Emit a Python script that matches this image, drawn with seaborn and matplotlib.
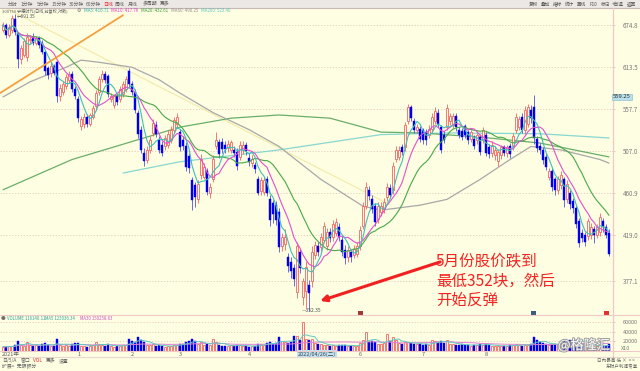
import numpy as np
import pandas as pd
import matplotlib
matplotlib.use("Agg")
import matplotlib.pyplot as plt
import matplotlib.transforms as mtrans
import matplotlib.patheffects as pe
from matplotlib.patches import Rectangle
from matplotlib.lines import Line2D
from matplotlib.ticker import FixedLocator, NullLocator, FuncFormatter
import seaborn as sns

# ---------------- data ----------------
opens = [667, 675, 660, 667, 684, 662, 625, 630, 627, 652,
         657, 648, 655, 648, 635, 612, 605, 615, 620, 574,
         579, 588, 595, 604, 584, 570, 536, 539, 548, 539,
         548, 561, 580, 597, 604, 601, 570, 563, 574, 570,
         577, 584, 608, 590, 580, 552, 532, 505, 497, 508,
         528, 538, 520, 514, 512, 514, 520, 532, 539, 529,
         520, 513, 501, 474, 469, 454, 480, 478, 484, 461,
         476, 513, 517, 517, 514, 510, 508, 508, 506, 500,
         508, 514, 499, 493, 491, 475, 463, 462, 475, 454,
         450, 448, 441, 408, 410, 398, 394, 388, 368, 403,
         364, 369, 374, 377, 400, 408, 407, 414, 408, 422,
         417, 421, 426, 414, 405, 398, 403, 400, 401, 408,
         427, 447, 464, 454, 447, 434, 441, 444, 456, 466,
         464, 498, 500, 511, 511, 543, 560, 543, 532, 533,
         531, 529, 526, 533, 543, 553, 535, 526, 535, 543,
         538, 549, 532, 530, 536, 529, 521, 521, 519, 523,
         519, 525, 511, 505, 502, 495, 502, 511, 505, 513,
         512, 532, 535, 548, 531, 539, 556, 560, 521, 512,
         508, 500, 478, 484, 475, 464, 469, 475, 454, 461,
         452, 445, 432, 421, 419, 418, 419, 424, 419, 422,
         432, 426, 421]
highs = [680, 678, 676, 690, 691.35, 664, 645, 655, 662, 660,
         662, 658, 658, 652, 638, 615, 620, 618, 622, 590,
         594, 604, 608, 608, 588, 574, 549, 552, 551, 553,
         563, 582, 601, 609, 608, 604, 578, 577, 578, 588,
         594, 601, 612, 594, 584, 556, 536, 510, 512, 524,
         545, 542, 524, 518, 526, 531, 536, 548, 552, 533,
         524, 517, 505, 478, 472, 474, 503, 493, 488, 471,
         502, 529, 521, 522, 518, 519, 520, 512, 510, 518,
         518, 517, 504, 502, 494, 479, 478, 478, 479, 458,
         453, 452, 445, 421, 424, 402, 398, 392, 412, 406,
         380, 395, 378, 408, 413, 412, 421, 431, 425, 425,
         433, 435, 430, 418, 409, 408, 406, 409, 412, 427,
         451, 472, 468, 458, 450, 451, 451, 455, 471, 470,
         494, 512, 512, 515, 541, 564, 563, 546, 539, 536,
         534, 533, 537, 553, 560, 557, 538, 530, 564, 553,
         553, 553, 535, 534, 539, 532, 532, 525, 528, 527,
         535, 529, 515, 518, 512, 509, 514, 514, 514, 516,
         528, 553, 549, 552, 561, 564, 562, 575, 524, 516,
         511, 504, 488, 487, 478, 479, 484, 478, 474, 464,
         455, 448, 435, 424, 422, 435, 430, 427, 429, 440,
         435, 429, 424]
lows = [664, 655, 657, 663, 660, 612, 618, 627, 622, 648,
        645, 645, 640, 632, 602, 597, 600, 602, 566, 568,
        575, 584, 591, 580, 570, 541, 531, 534, 535, 536,
        545, 558, 576, 593, 591, 573, 566, 559, 562, 566,
        573, 580, 586, 576, 552, 522, 504, 490, 493, 505,
        524, 523, 504, 501, 508, 510, 516, 528, 535, 507,
        508, 484, 482, 443, 446, 450, 476, 475, 458, 455,
        472, 509, 499, 505, 505, 506, 504, 500, 485, 496,
        503, 502, 490, 489, 482, 458, 458, 458, 457, 427,
        430, 428, 403, 404, 405, 385, 380, 373, 363, 384,
        357, 355, 352.35, 372, 396, 399, 404, 411, 405, 412,
        413, 418, 413, 399, 392, 394, 394, 397, 398, 405,
        424, 444, 453, 440, 427, 430, 437, 440, 452, 455,
        460, 494, 497, 502, 507, 539, 542, 528, 528, 517,
        515, 514, 522, 529, 539, 535, 504, 516, 531, 538,
        534, 530, 522, 519, 522, 515, 517, 509, 515, 502,
        516, 501, 499, 500, 497, 490, 498, 501, 500, 499,
        508, 528, 531, 528, 527, 535, 540, 515, 506, 503,
        492, 485, 474, 463, 458, 460, 465, 446, 450, 444,
        440, 425, 407, 412, 408, 414, 415, 411, 416, 418,
        422, 416, 399]
closes = [675, 660, 671, 686, 664, 625, 640, 650, 656, 654,
          648, 655, 645, 635, 608, 602, 615, 605, 574, 585,
          590, 600, 604, 584, 574, 546, 545, 548, 539, 550,
          559, 578, 597, 604, 595, 577, 574, 574, 566, 584,
          590, 597, 590, 580, 556, 527, 508, 495, 508, 520,
          540, 527, 508, 505, 522, 527, 532, 544, 548, 511,
          513, 489, 487, 453, 456, 470, 498, 489, 462, 467,
          498, 520, 503, 509, 509, 515, 517, 505, 490, 514,
          514, 507, 494, 498, 486, 461, 474, 474, 461, 433,
          439, 433, 407, 417, 417, 390, 386, 379, 408, 388,
          377, 389, 367, 403, 409, 403, 417, 427, 422, 416,
          429, 431, 417, 403, 397, 405, 398, 406, 408, 423,
          447, 467, 457, 444, 431, 447, 447, 451, 467, 459,
          490, 508, 508, 506, 537, 560, 546, 532, 535, 521,
          519, 519, 533, 548, 555, 539, 508, 520, 559, 549,
          549, 535, 526, 523, 526, 519, 529, 513, 525, 506,
          531, 505, 503, 514, 508, 506, 511, 505, 511, 503,
          524, 548, 545, 532, 556, 560, 546, 522, 510, 508,
          497, 489, 484, 467, 464, 475, 480, 453, 470, 449,
          445, 429, 411, 416, 412, 432, 426, 419, 426, 436,
          426, 419, 401]
volumes = [9000, 8500, 9500, 10000, 13000, 21000, 12000, 11000, 19000, 12000,
           11000, 12500, 10000, 14000, 17000, 12000, 11000, 10500, 24000, 13000,
           11000, 12000, 10000, 14000, 16000, 17000, 11000, 10000, 9000, 10000,
           12000, 19000, 13000, 12000, 11000, 14000, 10000, 9000, 10000, 11000,
           12000, 13000, 25000, 20000, 18000, 28000, 22000, 19000, 13000, 12000,
           14000, 11000, 12000, 10000, 9000, 10000, 11000, 12000, 13000, 15000,
           14000, 18000, 20000, 24000, 20000, 15000, 18000, 13000, 14000, 12000,
           25000, 18000, 12000, 11000, 10000, 11000, 12000, 10000, 13000, 12000,
           11000, 10000, 9000, 10000, 9500, 15000, 14000, 13000, 16000, 18000,
           15000, 16000, 29000, 20000, 19000, 17000, 18000, 31000, 30000, 22000,
           59000, 25000, 22000, 24000, 17000, 15000, 14000, 13000, 12000, 11000,
           12000, 11000, 12000, 13000, 12000, 10000, 11000, 10500, 11000, 16000,
           22000, 40000, 18000, 20000, 19000, 15000, 14000, 16000, 36000, 20000,
           28000, 22000, 17000, 15000, 18000, 19000, 16000, 15000, 14000, 15000,
           13000, 14000, 13000, 22000, 20000, 18000, 21000, 16000, 22000, 15000,
           14000, 13000, 12000, 14000, 13000, 12000, 11000, 12000, 13000, 14000,
           13000, 14000, 12000, 11000, 10000, 11000, 10000, 11000, 10000, 12000,
           12000, 14000, 12000, 11000, 13000, 12000, 15000, 29000, 22000, 18000,
           16000, 14000, 13000, 15000, 14000, 13000, 16000, 23000, 18000, 22000,
           20000, 23000, 24000, 14000, 13000, 12000, 11000, 10000, 11000, 12000,
           10000, 11000, 14000]

# long moving averages (candle index, price)
ma60_idx = [0, 9, 21, 26, 32, 43, 52, 59, 70, 82, 92, 106, 120, 126, 139, 148, 159, 169, 176, 186, 199, 202]
ma60_val = [573, 593, 613, 623, 620, 613, 596, 578, 553, 532, 512, 475, 447, 443, 448, 454, 475, 497, 512, 508, 497, 493]
ma120_idx = [0, 23, 59, 76, 92, 109, 126, 139, 159, 179, 202]
ma120_val = [464, 497, 535, 546, 550, 546, 529, 528, 523, 516, 500]
ma200_idx = [40, 59, 92, 126, 149, 179, 202]
ma200_val = [482, 494.5, 508, 526, 528, 527, 522]
trend_idx = [-1, 40]          # orange drawn trend line
trend_val = [578, 690]
pale_idx = [-1, 129]          # pale yellow drawn line
pale_val = [706, 448.5]

month_idx = [0, 25, 43, 59, 82, 119, 140, 161]
month_lbl = ['2021年', '1', '2', '3', '4', '6', '7', '8']
price_ticks = [377.1, 419.0, 460.9, 507.0, 557.7, 613.5, 674.8]
vol_ticks = [20000, 40000, 60000]

# ---------------- style ----------------
sns.set_theme(style='white')
plt.rcParams['font.family'] = ['Noto Sans CJK SC', 'DejaVu Sans']
plt.rcParams['axes.unicode_minus'] = False

BG = '#FEFEE2'
UPC = '#F26464'
DNC = '#0000EE'
DNW = '#5050F0'
SEP = '#F0C8C8'
GRID = '#E6C8C0'
W, H = 640, 371


def fx(x):
    return x / W


def fy(y):
    return 1 - y / H


fig = plt.figure(figsize=(6.4, 3.71), dpi=100, facecolor=BG)

# toolbar
fig.add_artist(Rectangle((0, fy(8)), 1, 8 / H, transform=fig.transFigure,
                         facecolor='#ECE8E6', edgecolor='none', zorder=0))
for y, c in [(8, '#C9B8B8'), (315, SEP), (351, SEP), (357, '#E8D8D0')]:
    fig.add_artist(Line2D([0, 1], [fy(y), fy(y)], color=c, lw=0.8, transform=fig.transFigure))
fig.add_artist(Line2D([fx(612.5)] * 2, [fy(8), fy(357)], color=SEP, lw=0.9, transform=fig.transFigure))

tabs = [(8, '分时'), (21, '1分钟'), (37, '5分钟'), (52, '15分钟'), (69, '30分钟'), (86, '60分钟'),
        (103, '日线'), (115, '周线'), (128, '月线'), (143, '多周期'), (160, '更多')]
for x, t in tabs:
    fig.text(fx(x), fy(4), t, fontsize=3.5, color='#E03030' if t == '日线' else '#606060',
             va='center', ha='left')
rtabs = [(529, '复权'), (541, '叠加'), (553, '指标'), (565, '统计'), (577, '画线'),
         (590, 'F10'), (601, '标记'), (612, '+自选'), (627, '返回')]
for x, t in rtabs:
    fig.text(fx(x), fy(4), t, fontsize=3.3, color='#505050', va='center', ha='left')

# ---------------- price panel ----------------
ax = fig.add_axes([0, fy(315), fx(612), (315 - 8) / H])
ax.set_facecolor(BG)

df = pd.DataFrame({'i': np.arange(len(closes)), 'o': opens, 'h': highs,
                   'l': lows, 'c': closes, 'v': volumes})
up = df['c'] >= df['o']
U, D = df[up], df[~up]
bw = 0.62

ax.vlines(U['i'], U['l'], U['o'], color=UPC, lw=0.6, zorder=3)
ax.vlines(U['i'], U['c'], U['h'], color=UPC, lw=0.6, zorder=3)
ax.bar(U['i'], U['c'] - U['o'], bottom=U['o'], width=bw, facecolor=BG,
       edgecolor=UPC, linewidth=0.6, zorder=3)
ax.vlines(D['i'], D['l'], D['h'], color=DNW, lw=0.6, zorder=3)
ax.bar(D['i'], D['o'] - D['c'], bottom=D['c'], width=bw, color=DNC,
       edgecolor=DNC, linewidth=0.3, zorder=3.1)

df['ma5'] = df['c'].rolling(5, min_periods=1).mean()
df['ma10'] = df['c'].rolling(10, min_periods=1).mean()
df['ma20'] = df['c'].rolling(20, min_periods=1).mean()

sns.lineplot(x=pale_idx, y=pale_val, ax=ax, color='#F2EBA8', lw=0.8, zorder=2)
sns.lineplot(x=ma200_idx, y=ma200_val, ax=ax, color='#86D8D0', lw=0.9, zorder=2)
sns.lineplot(x=ma120_idx, y=ma120_val, ax=ax, color='#6AAE6A', lw=0.9, zorder=2)
sns.lineplot(x=ma60_idx, y=ma60_val, ax=ax, color='#A8A8A8', lw=0.9, zorder=2)
sns.lineplot(data=df, x='i', y='ma20', ax=ax, color='#48A848', lw=0.8, zorder=4)
sns.lineplot(data=df, x='i', y='ma10', ax=ax, color='#E050D0', lw=0.8, zorder=4)
sns.lineplot(data=df, x='i', y='ma5', ax=ax, color='#40BFB8', lw=0.8, zorder=4)
sns.lineplot(x=trend_idx, y=trend_val, ax=ax, color='#F5A040', lw=1.3, zorder=5)

ax.set_yscale('log')
ax.set_ylim(349.05, 701.4)
ax.set_xlim(-1, 203)
ax.yaxis.set_major_locator(FixedLocator(price_ticks))
ax.yaxis.set_minor_locator(NullLocator())
ax.yaxis.set_major_formatter(FuncFormatter(lambda v, p: f'{v:.1f}'))
ax.yaxis.tick_right()
ax.tick_params(axis='y', which='major', labelsize=4.5, labelcolor='#7A7A7A', length=2,
               color='#E8B8B8', width=0.6, pad=6, right=True, left=False)
ax.tick_params(axis='y', which='minor', length=0)
ax.set_xticks([])
ax.set_xlabel('')
ax.set_ylabel('')
for t in price_ticks:
    ax.axhline(t, color=GRID, lw=0.6, ls=(0, (1.5, 2)), zorder=1)
for s in ax.spines.values():
    s.set_visible(False)

# labels on the price panel
ax.text(4.6, 687.5, '←691.35', fontsize=3.3, color='#505050', va='center', ha='left', zorder=6)
ax.text(99.6, 352.35, '—352.35', fontsize=3.6, color='#505050', va='center', ha='left', zorder=6)
ax.annotate('', xy=(105.7, 360.4), xytext=(145.7, 393.8),
            arrowprops=dict(arrowstyle='-|>', color='#F02020', lw=2.2,
                            mutation_scale=9, shrinkA=0, shrinkB=0), zorder=6)
for k, line in enumerate(['5月份股价跌到', '最低352块，然后', '开始反弹']):
    fig.text(fx(436), fy(262 + 19 * k), line, fontsize=11.2, color='#F52222',
             va='center', ha='left')

fig.text(fx(613), fy(97), '559.25', fontsize=4.2, color='#303030', va='center', ha='left',
         bbox=dict(boxstyle='square,pad=0.15', fc='#B8E0EC', ec='#88B8C8', lw=0.4))

info = [(2, '300750 宁德时代(日线,前复权,对数)', '#606060', 3.0), (77, '⚙', '#606060', 3.4),
        (84, 'MA5: 416.71', '#30B0A8', 3.2), (111, 'MA10: 417.76', '#E040C8', 3.2),
        (141, 'MA20: 432.61', '#40A040', 3.2), (171, 'MA60: 490.25', '#909090', 3.2),
        (201, 'MA200: 523.40', '#60C8C0', 3.2)]
for x, t, c, fs in info:
    fig.text(fx(x), fy(10.3), t, fontsize=fs, color=c, va='center', ha='left')

# marker row
for x, c in [(358, '#A03838'), (531, '#3C5C7C'), (603.5, '#E03030')]:
    fig.add_artist(Rectangle((fx(x), fy(315.5)), 5 / W, 5 / H, transform=fig.transFigure,
                             facecolor=c, edgecolor='none'))

# ---------------- volume panel ----------------
axv = fig.add_axes([0, fy(351), fx(612), (351 - 316) / H])
axv.set_facecolor(BG)
axv.bar(U['i'], U['v'], width=bw, facecolor=BG, edgecolor=UPC, linewidth=0.6, zorder=3)
axv.bar(D['i'], D['v'], width=bw, color=DNC, edgecolor=DNC, linewidth=0.3, zorder=3)
df['vma5'] = df['v'].rolling(5, min_periods=1).mean()
df['vma30'] = df['v'].rolling(30, min_periods=1).mean()
sns.lineplot(data=df, x='i', y='vma30', ax=axv, color='#E080D8', lw=0.7, zorder=4)
sns.lineplot(data=df, x='i', y='vma5', ax=axv, color='#60C8C0', lw=0.7, zorder=4)
axv.set_xlim(-1, 203)
axv.set_ylim(0, 72400)
axv.yaxis.set_major_locator(FixedLocator(vol_ticks))
axv.yaxis.set_major_formatter(FuncFormatter(lambda v, p: f'{v:.0f}'))
axv.yaxis.tick_right()
axv.tick_params(axis='y', labelsize=4.0, labelcolor='#7A7A7A', length=2, color='#E8B8B8',
                width=0.6, pad=6, right=True, left=False)
axv.set_xticks([])
axv.set_xlabel('')
axv.set_ylabel('')
for t in vol_ticks:
    axv.axhline(t, color=GRID, lw=0.6, ls=(0, (1.5, 2)), zorder=1)
for s in axv.spines.values():
    s.set_visible(False)
fig.text(fx(621), fy(348), 'X10', fontsize=4.0, color='#7A7A7A', va='center', ha='left')

fig.text(fx(1), fy(318.5), '●', fontsize=3.4, color='#707070', va='center', ha='left')
for x, t, c in [(7, 'VOLUME 116140.11', '#30A8A0'), (45, 'MA5 123036.34', '#30A8A0'),
                (80, 'MA30 150258.63', '#D050C8')]:
    fig.text(fx(x), fy(318.5), t, fontsize=3.1, color=c, va='center', ha='left')

# watermark
fig.text(fx(558), fy(345), '@格隆汇', fontsize=9.5, color='white', alpha=0.95,
         va='center', ha='left',
         path_effects=[pe.withStroke(linewidth=1.4, foreground='#9A9A9A')])

# ---------------- date row ----------------
trans = mtrans.blended_transform_factory(axv.transData, fig.transFigure)
for i, lbl in zip(month_idx, month_lbl):
    axv.text(i - 0.3, fy(354), lbl, transform=trans, fontsize=4.0, color='#606060',
             va='center', ha='left')
axv.text(98.4, fy(354), '2022/04/26(二)', transform=trans, fontsize=4.0, color='#404040',
         va='center', ha='left',
         bbox=dict(boxstyle='square,pad=0.2', fc='#BEE2F4', ec='none'))

# bottom tool rows
for x, t, c in [(2, '日/5/A', '#606060'), (21, '窗口', '#606060'), (33, 'VOL', '#E03030'),
                (46, '更多', '#606060'), (59, '设置', '#606060')]:
    fig.text(fx(x), fy(360.5), t, fontsize=3.5, color=c, va='center', ha='left')
fig.text(fx(2), fy(367), '扩展>  无限额分', fontsize=3.5, color='#606060', va='center', ha='left')
fig.text(fx(597), fy(360.5), '日内最高 低 ×  < >', fontsize=3.3, color='#606060',
         va='center', ha='left')
fig.text(fx(606), fy(367), '东财户利润专享', fontsize=3.3, color='#606060', va='center', ha='left')

fig.savefig('out.png', dpi=100, facecolor=BG)
